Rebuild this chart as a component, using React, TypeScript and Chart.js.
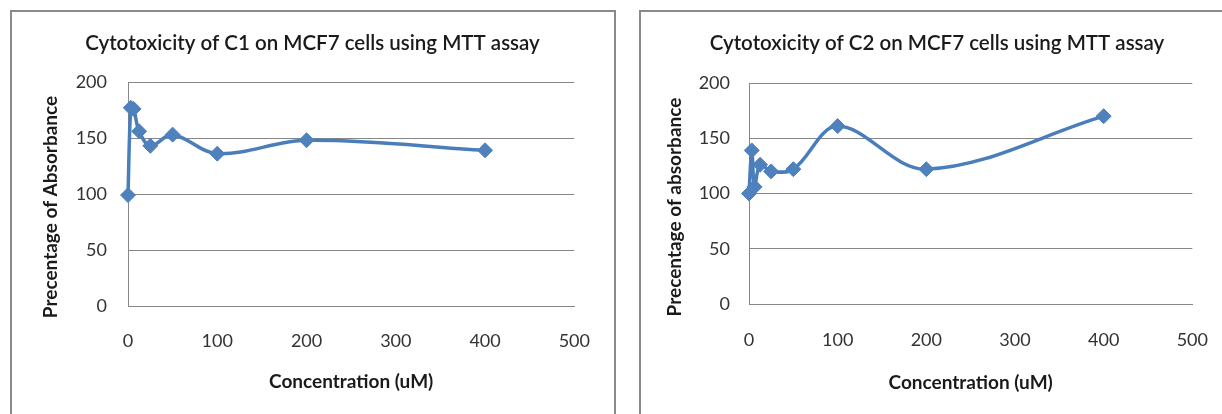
import React, { useEffect, useRef } from "react";
import { Chart, registerables } from "chart.js";

Chart.register(...registerables);

// ---- data ----
const concentrations = [0, 3.125, 6.25, 12.5, 25, 50, 100, 200, 400];
const c1Absorbance = [99, 177, 176, 156, 143, 153, 136, 148, 139];
const c2Absorbance = [100, 139, 106, 126, 120, 122, 161, 122, 170];
const xTickValues = [0, 100, 200, 300, 400, 500];
const yTickValues = [0, 50, 100, 150, 200];
const chartTitles = [
  "Cytotoxicity of C1 on MCF7 cells using MTT assay",
  "Cytotoxicity of C2 on MCF7 cells using MTT assay",
];
const xAxisTitle = "Concentration (uM)";
const yAxisTitles = ["Precentage of Absorbance", "Precentage of absorbance"];

const FONT = "Lato, 'Open Sans', 'DejaVu Sans', sans-serif";
const LINE_COLOR = "#4A7EBB";
const MARKER_COLOR = "#4F81BD";
const GRID_COLOR = "#878787";
const BORDER_COLOR = "#8a8a8a";

const textPlugin = {
  id: "textLabels",
  afterDraw(chart: any, _args: any, opts: any) {
    const ctx = chart.ctx;
    (opts.items || []).forEach((it: any) => {
      ctx.save();
      ctx.font = it.font;
      ctx.fillStyle = it.color;
      ctx.textAlign = "center";
      ctx.textBaseline = "middle";
      ctx.translate(it.x, it.y);
      if (it.rotation) ctx.rotate(it.rotation);
      ctx.fillText(it.text, 0, 0);
      ctx.restore();
    });
  },
};

type Layout = {
  w: number;
  h: number;
  top: number;
  padRight: number;
  yAxisWidth: number;
  xAxisHeight: number;
  yTickPad: number;
  xTickPad: number;
  xTitlePadBottom: number;
  titleX: number;
  titleY: number;
  yTitleX: number;
  yTitleY: number;
};

function CytoChart({
  values,
  title,
  yTitle,
  layout,
}: {
  values: number[];
  title: string;
  yTitle: string;
  layout: Layout;
}) {
  const ref = useRef<HTMLCanvasElement | null>(null);
  useEffect(() => {
    if (!ref.current) return;
    const points = concentrations.map((x, i) => ({ x, y: values[i] }));
    const chart = new Chart(ref.current, {
      type: "line",
      data: {
        datasets: [
          {
            data: points,
            borderColor: LINE_COLOR,
            backgroundColor: MARKER_COLOR,
            borderWidth: 3.5,
            tension: 0.35,
            pointStyle: "rectRot",
            pointRadius: 7.5,
            pointBorderWidth: 1,
            pointBorderColor: MARKER_COLOR,
            pointBackgroundColor: MARKER_COLOR,
            clip: false,
            fill: false,
          } as any,
        ],
      },
      options: {
        responsive: false,
        animation: false,
        layout: {
          padding: { top: layout.top, right: layout.padRight, bottom: 0, left: 0 },
        },
        plugins: {
          legend: { display: false },
          tooltip: { enabled: false },
          title: { display: false },
          textLabels: {
            items: [
              {
                text: title,
                x: layout.titleX,
                y: layout.titleY,
                font: `600 20.5px ${FONT}`,
                color: "#1a1a1a",
              },
              {
                text: yTitle,
                x: layout.yTitleX,
                y: layout.yTitleY,
                font: `bold 19px ${FONT}`,
                color: "#1a1a1a",
                rotation: -Math.PI / 2,
              },
            ],
          },
        } as any,
        scales: {
          x: {
            type: "linear",
            min: 0,
            max: 500,
            afterBuildTicks: (s: any) => {
              s.ticks = xTickValues.map((v) => ({ value: v }));
            },
            afterFit: (s: any) => {
              s.height = layout.xAxisHeight;
            },
            grid: { display: false, drawTicks: false },
            border: { display: true, color: GRID_COLOR, width: 1 },
            ticks: {
              padding: layout.xTickPad,
              color: "#333",
              font: { family: FONT, size: 18 },
              maxRotation: 0,
            },
            title: {
              display: true,
              text: xAxisTitle,
              color: "#1a1a1a",
              font: { family: FONT, size: 19, weight: "bold" },
              padding: { top: 0, bottom: layout.xTitlePadBottom },
            },
          },
          y: {
            type: "linear",
            min: 0,
            max: 200,
            afterBuildTicks: (s: any) => {
              s.ticks = yTickValues.map((v) => ({ value: v }));
            },
            afterFit: (s: any) => {
              s.width = layout.yAxisWidth;
            },
            grid: { display: true, color: GRID_COLOR, lineWidth: 1, drawTicks: false },
            border: { display: true, color: GRID_COLOR, width: 1 },
            ticks: {
              padding: layout.yTickPad,
              color: "#333",
              font: { family: FONT, size: 18 },
            },
          },
        },
      } as any,
      plugins: [textPlugin],
    });
    return () => chart.destroy();
  }, [values, title, yTitle, layout]);
  return (
    <canvas
      ref={ref}
      width={layout.w}
      height={layout.h}
      style={{ width: layout.w, height: layout.h, display: "block" }}
    />
  );
}

const leftLayout: Layout = {
  w: 602,
  h: 402,
  top: 70,
  padRight: 37,
  yAxisWidth: 116,
  xAxisHeight: 108,
  yTickPad: 21,
  xTickPad: 24,
  xTitlePadBottom: 21,
  titleX: 300.5,
  titleY: 31.5,
  yTitleX: 39,
  yTitleY: 195,
};

const rightLayout: Layout = {
  w: 592,
  h: 402,
  top: 71,
  padRight: 34,
  yAxisWidth: 108,
  xAxisHeight: 110,
  yTickPad: 19,
  xTickPad: 25,
  xTitlePadBottom: 20,
  titleX: 296,
  titleY: 31.5,
  yTitleX: 34,
  yTitleY: 195,
};

export default function App() {
  return (
    <div
      style={{
        position: "fixed",
        left: 0,
        top: 0,
        width: 1222,
        height: 414,
        overflow: "hidden",
        background: "#fff",
      }}
    >
      <div
        style={{
          position: "absolute",
          left: 10,
          top: 10,
          width: 602,
          height: 420,
          border: `2px solid ${BORDER_COLOR}`,
        }}
      />
      <div
        style={{
          position: "absolute",
          left: 639,
          top: 10,
          width: 592,
          height: 420,
          border: `2px solid ${BORDER_COLOR}`,
        }}
      />
      <div style={{ position: "absolute", left: 12, top: 12 }}>
        <CytoChart
          values={c1Absorbance}
          title={chartTitles[0]}
          yTitle={yAxisTitles[0]}
          layout={leftLayout}
        />
      </div>
      <div style={{ position: "absolute", left: 641, top: 12 }}>
        <CytoChart
          values={c2Absorbance}
          title={chartTitles[1]}
          yTitle={yAxisTitles[1]}
          layout={rightLayout}
        />
      </div>
    </div>
  );
}
